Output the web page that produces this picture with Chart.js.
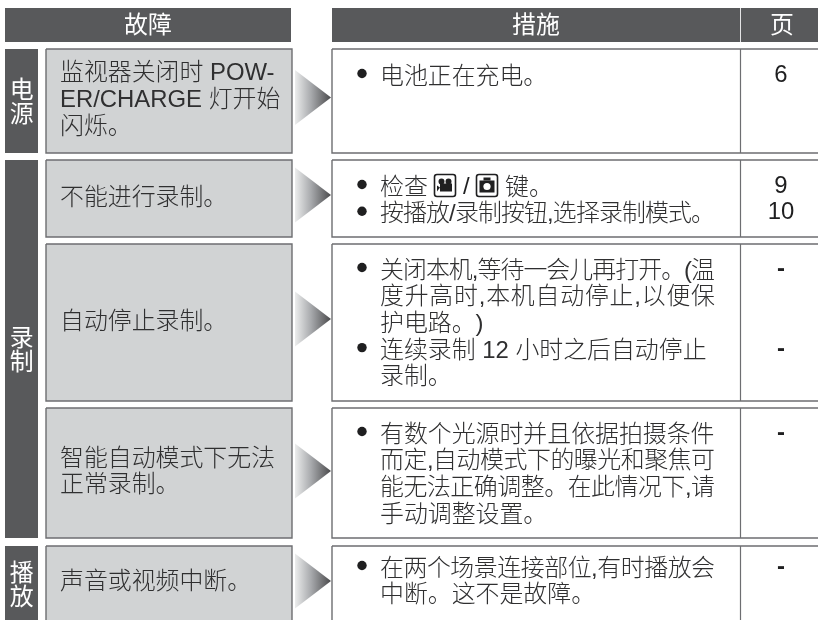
<!DOCTYPE html>
<html>
  <head>
    <meta charset="utf-8" />
    <script src="https://cdn.jsdelivr.net/npm/chart.js@4/dist/chart.umd.js"></script>
    <style>
      html, body { margin: 0; padding: 0; background: #fff; }
      #wrap { width: 818px; height: 620px; }
    </style>
  </head>
  <body>
    <div id="wrap"><canvas id="tableChart" width="818" height="620"></canvas></div>
    <script>
      // table content
      const headers = ["故障", "措施", "页"];
      const groupLabels = ["电源", "录制", "播放"];
      const groupFirstRow = [0, 1, 4];
      const groupLastRow = [0, 3, 4];
      const problems = [
        ["监视器关闭时 POW-", "ER/CHARGE 灯开始", "闪烁。"],
        ["不能进行录制。"],
        ["自动停止录制。"],
        ["智能自动模式下无法", "正常录制。"],
        ["声音或视频中断。"],
      ];
      const actions = [
        [["电池正在充电。"]],
        [["检查 @@ / ## 键。"], ["按播放/录制按钮,选择录制模式。"]],
        [["关闭本机,等待一会儿再打开。(温", "度升高时,本机自动停止,以便保", "护电路。)"], ["连续录制 12 小时之后自动停止", "录制。"]],
        [["有数个光源时并且依据拍摄条件", "而定,自动模式下的曝光和聚焦可", "能无法正确调整。在此情况下,请", "手动调整设置。"]],
        [["在两个场景连接部位,有时播放会", "中断。这不是故障。"]],
      ];
      const pages = [["6"], ["9", "10"], ["-", "-"], ["-"], ["-"]];

      // row extents
      const rowStart = [49, 160, 244, 408, 546];
      const rowEnd = [153, 237, 401, 538, 625];

      const colors = {
        dark: "#58595b",
        cell: "#d1d3d4",
        line: "#6d6e71",
        text: "#2f2f30",
      };

      // column edges on the x axis
      const col = {
        groupL: 5, groupR: 38,
        probL: 46, probR: 292,
        headL: 5, headR: 291,
        arrowL: 295, arrowR: 331,
        actL: 332, actR: 825,
        divider: 740.5,
        pageMid: 781,
      };
      const headY = [8, 42];
      const LINE = 26.7;
      const ACTION_WIDTH = 335;
      const FONT = '"Liberation Sans", "Noto Sans CJK SC", sans-serif';

      const rect = (x0, x1, y0, y1) => [
        { x: x0, y: y0 }, { x: x1, y: y0 }, { x: x1, y: y1 }, { x: x0, y: y1 }, { x: x0, y: y0 },
      ];

      const shape = (data, fill, line, width) => ({
        type: "scatter",
        data,
        showLine: true,
        fill: fill ? "shape" : false,
        backgroundColor: fill || "transparent",
        borderColor: line || "transparent",
        borderWidth: width || 0,
        pointRadius: 0,
        tension: 0,
        borderJoinStyle: "miter",
      });

      const datasets = [];
      // header bands
      datasets.push(shape(rect(col.headL, col.headR, headY[0], headY[1]), colors.dark));
      datasets.push(shape(rect(col.actL, col.actR, headY[0], headY[1]), colors.dark));
      datasets.push(shape([{ x: col.divider, y: headY[0] }, { x: col.divider, y: headY[1] }], null, "#e4e4e5", 1));
      // group strips
      groupLabels.forEach((_, g) => {
        datasets.push(shape(rect(col.groupL, col.groupR, rowStart[groupFirstRow[g]], rowEnd[groupLastRow[g]]), colors.dark));
      });
      // rows
      rowStart.forEach((top, i) => {
        datasets.push(shape(rect(col.probL, col.probR, top, rowEnd[i]), colors.cell, colors.line, 1.4));
        datasets.push(shape(rect(col.actL, col.actR, top, rowEnd[i]), "#ffffff", colors.line, 1.4));
        datasets.push(shape([{ x: col.divider, y: top }, { x: col.divider, y: rowEnd[i] }], null, colors.line, 1.2));
      });
      // arrows, y of the tip per row
      const arrowTip = [97.5, 195, 319, 471, 581];
      arrowTip.forEach((tip) => {
        const d = shape(
          [{ x: col.arrowL, y: tip - 27.5 }, { x: col.arrowR, y: tip }, { x: col.arrowL, y: tip + 27.5 }, { x: col.arrowL, y: tip - 27.5 }],
          "#888"
        );
        d.backgroundColor = (c) => {
          const { ctx, scales, chartArea } = c.chart;
          if (!chartArea) return "#888";
          const g = ctx.createLinearGradient(scales.x.getPixelForValue(col.arrowL), 0, scales.x.getPixelForValue(col.arrowR), 0);
          g.addColorStop(0, "#eceded");
          g.addColorStop(0.45, "#a7a9ac");
          g.addColorStop(1, "#4a4a4c");
          return g;
        };
        datasets.push(d);
      });
      // Chart.js paints the first dataset last
      datasets.reverse();

      // first action line centre per row, bullets sit slightly above it
      const actionFirstLine = [77, 188, 271, 435, 569];
      const groupFirstCentre = [91, 339, 574];
      const groupLinePitch = 24.5;

      function drawIcon(ctx, kind, x, y) {
        ctx.save();
        ctx.strokeStyle = "#1f1f20";
        ctx.fillStyle = "#1f1f20";
        ctx.lineWidth = 1.6;
        ctx.beginPath();
        ctx.roundRect(x + 1, y - 11, 21, 22, 2.5);
        ctx.stroke();
        if (kind === "video") {
          ctx.beginPath();
          ctx.arc(x + 8, y - 4, 3, 0, Math.PI * 2);
          ctx.arc(x + 15, y - 4, 3, 0, Math.PI * 2);
          ctx.fill();
          ctx.fillRect(x + 6.5, y - 2, 12, 8);
          ctx.beginPath();
          ctx.moveTo(x + 6.5, y + 2);
          ctx.lineTo(x + 3.5, y);
          ctx.lineTo(x + 3.5, y + 6);
          ctx.closePath();
          ctx.fill();
        } else {
          ctx.fillRect(x + 4, y - 5, 15, 12);
          ctx.fillRect(x + 8, y - 8, 7, 3);
          ctx.fillStyle = "#fff";
          ctx.beginPath();
          ctx.arc(x + 11.5, y + 1, 3.6, 0, Math.PI * 2);
          ctx.fill();
        }
        ctx.restore();
      }

      const textPlugin = {
        id: "tableText",
        afterDatasetsDraw(chart) {
          const { ctx, scales } = chart;
          const px = (v) => scales.x.getPixelForValue(v);
          const py = (v) => scales.y.getPixelForValue(v);
          const put = (s, x, y, color, align, weight, fitWidth) => {
            ctx.font = (weight || 300) + " 23.9px " + FONT;
            ctx.fillStyle = color;
            ctx.textAlign = align || "left";
            ctx.textBaseline = "middle";
            ctx.letterSpacing = "0px";
            if (fitWidth) {
              const extra = (fitWidth - ctx.measureText(s).width) / ([...s].length - 1);
              ctx.letterSpacing = extra.toFixed(3) + "px";
            }
            ctx.fillText(s, px(x), py(y));
            ctx.letterSpacing = "0px";
          };
          ctx.save();

          put(headers[0], 148, 26, "#fff", "center", 400);
          put(headers[1], 536, 26, "#fff", "center", 400);
          put(headers[2], 782, 26, "#fff", "center", 400);

          groupLabels.forEach((label, g) => {
            [...label].forEach((ch, k) => {
              put(ch, 21.7, groupFirstCentre[g] + k * groupLinePitch, "#fff", "center", 400);
            });
          });

          problems.forEach((lines, i) => {
            const mid = (rowStart[i] + Math.min(rowEnd[i], 620)) / 2 - 0.5;
            lines.forEach((s, k) => {
              put(s, 60, mid + (k - (lines.length - 1) / 2) * LINE, colors.text);
            });
          });

          actions.forEach((items, i) => {
            let y = actionFirstLine[i];
            items.forEach((lines, b) => {
              ctx.fillStyle = "#1f1f20";
              ctx.beginPath();
              ctx.arc(px(362), py(y - 3.5), 4.7, 0, Math.PI * 2);
              ctx.fill();
              if (pages[i][b] !== undefined) {
                put(pages[i][b], col.pageMid, y - 2, "#1f1f20", "center", pages[i][b] === "-" ? 700 : 400);
              }
              lines.forEach((s) => {
                if (s.includes("@@")) {
                  // the two mode keys are icons, the rest of the line is text
                  put("检查", 380, y, colors.text);
                  drawIcon(ctx, "video", px(433.5), py(y - 2.5));
                  put("/", 463, y - 1, "#1f1f20");
                  drawIcon(ctx, "photo", px(475.5), py(y - 2.5));
                  put("键。", 505, y, colors.text);
                } else {
                  // the print squeezes lines with a comma to the column width
                  put(s, 380, y, colors.text, "left", 300, s.includes(",") ? ACTION_WIDTH : 0);
                }
                y += LINE;
              });
            });
          });
          ctx.restore();
        },
      };

      new Chart(document.getElementById("tableChart"), {
        type: "scatter",
        data: { datasets },
        plugins: [textPlugin],
        options: {
          responsive: false,
          animation: false,
          layout: { padding: 0 },
          clip: false,
          plugins: { legend: { display: false }, tooltip: { enabled: false }, title: { display: false } },
          scales: {
            x: { type: "linear", min: 0, max: 818, display: false },
            y: { type: "linear", min: 0, max: 620, reverse: true, display: false },
          },
        },
      });
    </script>
  </body>
</html>
